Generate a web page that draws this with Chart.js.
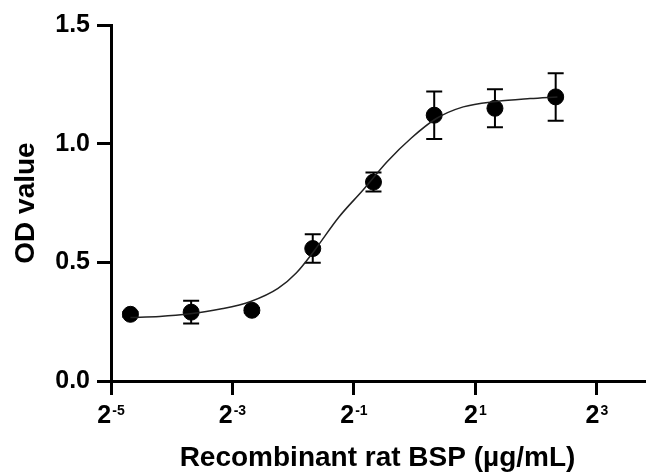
<!DOCTYPE html>
<html>
<head>
<meta charset="utf-8">
<script src="https://cdn.jsdelivr.net/npm/chart.js@4.4.1/dist/chart.umd.min.js"></script>
<style>
  html, body { margin: 0; padding: 0; background: #fff; overflow: hidden; }
  #odchart { display: block; }
</style>
</head>
<body>
<canvas id="odchart" width="653" height="475"></canvas>
<script>
// concentrations (µg/mL), two-fold dilutions
const concentrations = [0.039, 0.078, 0.156, 0.3125, 0.625, 1.25, 2.5, 5];
const odMeans = [0.281, 0.29, 0.298, 0.558, 0.838, 1.12, 1.149, 1.197];
const odErrors = [0.01, 0.048, 0.01, 0.06, 0.04, 0.10, 0.08, 0.10];

// fitted curve (log2 of concentration, OD)
const curveLog2 = [-4.68, -4.2, -3.7, -3.2, -2.7, -2.25, -1.95, -1.65, -1.25, -0.85, -0.45, -0.05, 0.35, 0.8, 1.35, 1.9, 2.35];
const curveOD = [0.268, 0.272, 0.283, 0.303, 0.335, 0.39, 0.455, 0.55, 0.69, 0.805, 0.925, 1.025, 1.105, 1.155, 1.178, 1.19, 1.197];

const xTickExponents = [-5, -3, -1, 1, 3];
const yTicks = [0, 0.5, 1.0, 1.5];

const FONT = '"Liberation Sans", Arial, sans-serif';

const errorBars = {
  id: 'errorBars',
  beforeDatasetsDraw(chart) {
    const { ctx, scales: { x, y } } = chart;
    ctx.save();
    ctx.strokeStyle = '#000';
    ctx.lineWidth = 2;
    concentrations.forEach((c, i) => {
      const px = x.getPixelForValue(c);
      const top = y.getPixelForValue(odMeans[i] + odErrors[i]);
      const bot = y.getPixelForValue(odMeans[i] - odErrors[i]);
      ctx.beginPath();
      ctx.moveTo(px, top); ctx.lineTo(px, bot);
      ctx.moveTo(px - 8, top); ctx.lineTo(px + 8, top);
      ctx.moveTo(px - 8, bot); ctx.lineTo(px + 8, bot);
      ctx.stroke();
    });
    ctx.restore();
  }
};

// x labels as 2 with a raised exponent
const powerLabels = {
  id: 'powerLabels',
  afterDraw(chart) {
    const { ctx, scales: { x } } = chart;
    ctx.save();
    ctx.fillStyle = '#000';
    ctx.textBaseline = 'alphabetic';
    ctx.textAlign = 'left';
    xTickExponents.forEach((e) => {
      const px = x.getPixelForValue(Math.pow(2, e));
      ctx.font = 'bold 25px ' + FONT;
      const w1 = ctx.measureText('2').width;
      ctx.font = 'bold 14px ' + FONT;
      const sup = String(e);
      const w2 = ctx.measureText(sup).width;
      const left = px - (w1 + 1 + w2) / 2;
      ctx.font = 'bold 25px ' + FONT;
      ctx.fillText('2', left, 423);
      ctx.font = 'bold 14px ' + FONT;
      ctx.fillText(sup, left + w1 + 1, 415);
    });
    ctx.restore();
  }
};

new Chart(document.querySelector('#odchart'), {
  type: 'scatter',
  data: {
    datasets: [
      {
        type: 'line',
        data: curveLog2.map((e, i) => ({ x: Math.pow(2, e), y: curveOD[i] })),
        borderColor: '#222',
        borderWidth: 1.5,
        pointRadius: 0,
        cubicInterpolationMode: 'monotone',
        fill: false,
      },
      {
        data: concentrations.map((c, i) => ({ x: c, y: odMeans[i] })),
        backgroundColor: '#000',
        borderColor: '#000',
        pointRadius: 8,
        pointHoverRadius: 8,
      },
    ],
  },
  options: {
    responsive: false,
    animation: false,
    layout: { padding: { top: 25, left: 0, right: 0, bottom: 0 } },
    plugins: { legend: { display: false }, tooltip: { enabled: false } },
    scales: {
      x: {
        type: 'logarithmic',
        min: Math.pow(2, -5),
        max: 13.7,
        afterBuildTicks: (axis) => { axis.ticks = xTickExponents.map((e) => ({ value: Math.pow(2, e) })); },
        afterFit: (axis) => { axis.height = 94; },
        ticks: { display: false },
        grid: { drawOnChartArea: false, drawTicks: true, tickLength: 14, color: '#000', lineWidth: 3 },
        border: { color: '#000', width: 3 },
        title: {
          display: true,
          text: 'Recombinant rat BSP (µg/mL)',
          color: '#000',
          font: { family: FONT, size: 28, weight: 'bold', lineHeight: 1.2 },
          padding: { top: 0, bottom: 0 },
        },
      },
      y: {
        min: 0,
        max: 1.5,
        afterBuildTicks: (axis) => { axis.ticks = yTicks.map((v) => ({ value: v })); },
        afterFit: (axis) => { axis.width = 111; },
        ticks: {
          color: '#000',
          padding: 7,
          font: { family: FONT, size: 25, weight: 'bold' },
          callback: (v) => Number(v).toFixed(1),
        },
        grid: { drawOnChartArea: false, drawTicks: true, tickLength: 14, color: '#000', lineWidth: 3 },
        border: { color: '#000', width: 3 },
        title: {
          display: true,
          text: 'OD value',
          color: '#000',
          font: { family: FONT, size: 28, weight: 'bold', lineHeight: 1.2 },
          padding: { top: 9, bottom: 0 },
        },
      },
    },
  },
  plugins: [errorBars, powerLabels],
});
</script>
</body>
</html>
